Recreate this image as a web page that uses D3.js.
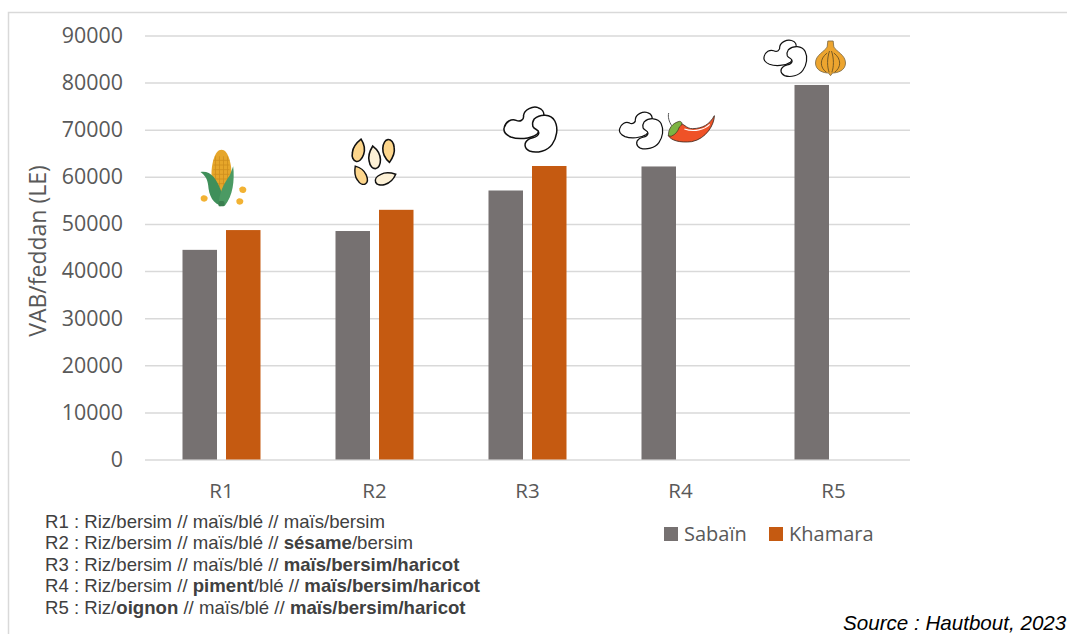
<!DOCTYPE html>
<html lang="fr">
<head>
<meta charset="utf-8">
<title>VAB/feddan par rotation</title>
<script src="https://cdn.jsdelivr.net/npm/d3@7/dist/d3.min.js"></script>
<style>
  html, body { margin: 0; padding: 0; background: #fff; overflow: hidden; }
  svg { display: block; }
  .tick-label { font-family: "Open Sans", sans-serif; fill: #595959; }
  .note { font-family: "Liberation Sans", Arial, sans-serif; font-size: 18.6px; fill: #404040; }
</style>
</head>
<body>
<svg id="chart" width="1067" height="634"></svg>
<script>
// Values per rotation, in LE per feddan
const categories = ["R1", "R2", "R3", "R4", "R5"];
const sabain = [44500, 48500, 57100, 62200, 79500];
const khamara = [48700, 53000, 62300, null, null];
const yTicks = [0, 10000, 20000, 30000, 40000, 50000, 60000, 70000, 80000, 90000];
const seriesNames = ["Sabaïn", "Khamara"];
const seriesColors = ["#767171", "#c55a11"];
const yTitle = "VAB/feddan (LE)";
const sourceText = "Source : Hautbout, 2023";

// Rotation notes: each line is a list of [text, isBold] runs
const noteLines = [
  [["R1 : Riz/bersim // maïs/blé // maïs/bersim", false]],
  [["R2 : Riz/bersim // maïs/blé // ", false], ["sésame", true], ["/bersim", false]],
  [["R3 : Riz/bersim // maïs/blé // ", false], ["maïs/bersim/haricot", true]],
  [["R4 : Riz/bersim // ", false], ["piment", true], ["/blé // ", false], ["maïs/bersim/haricot", true]],
  [["R5 : Riz/", false], ["oignon", true], [" // maïs/blé // ", false], ["maïs/bersim/haricot", true]]
];

const svg = d3.select("#chart");

const plot = { left: 145, right: 910, top: 35.5, bottom: 459.5 };
const x = d3.scaleBand().domain(categories).range([plot.left, plot.right]);
const y = d3.scaleLinear().domain([0, 90000]).range([plot.bottom, plot.top]);
const barWidth = 34.5, barGap = 9;

// Outer frame, open on the bottom edge
svg.append("path")
  .attr("d", "M8.5,634V12.5H1067")
  .attr("fill", "none").attr("stroke", "#d9d9d9").attr("stroke-width", 1.5);

// Value axis with full-width gridlines
const yAxis = svg.append("g")
  .attr("transform", `translate(${plot.left},0)`)
  .call(d3.axisLeft(y).tickValues(yTicks).tickFormat(d3.format("d"))
    .tickSize(-(plot.right - plot.left)).tickPadding(22));
yAxis.select(".domain").remove();
yAxis.selectAll("line").attr("stroke", "#d9d9d9").attr("stroke-width", 1.5);
yAxis.selectAll("text").attr("class", "tick-label").style("font-size", "21.4px");

// Category axis
const xAxis = svg.append("g")
  .attr("transform", `translate(0,${plot.bottom})`)
  .call(d3.axisBottom(x).tickSize(0).tickPadding(24));
xAxis.select(".domain").remove();
xAxis.selectAll("text").attr("class", "tick-label").style("font-size", "20.5px");

svg.append("text")
  .attr("class", "tick-label")
  .attr("transform", `translate(46,${(plot.top + plot.bottom) / 2 + 3.5}) rotate(-90)`)
  .attr("text-anchor", "middle")
  .style("font-size", "23px")
  .text(yTitle);

// Paired bars; a missing value leaves its slot empty
[sabain, khamara].forEach((values, s) => {
  svg.append("g").selectAll("rect")
    .data(categories.map((c, i) => ({ c, v: values[i] })).filter(d => d.v !== null))
    .join("rect")
    .attr("x", d => x(d.c) + x.bandwidth() / 2 + (s === 0 ? -barGap / 2 - barWidth : barGap / 2))
    .attr("y", d => y(d.v))
    .attr("width", barWidth)
    .attr("height", d => y(0) - y(d.v))
    .attr("fill", seriesColors[s]);
});

// Legend
const legendX = [664, 769];
seriesNames.forEach((name, i) => {
  svg.append("rect").attr("x", legendX[i]).attr("y", 527).attr("width", 14).attr("height", 14)
    .attr("fill", seriesColors[i]);
  svg.append("text").attr("class", "tick-label").attr("x", legendX[i] + 20).attr("y", 541)
    .style("font-size", "20px").text(name);
});

// Rotation notes under the axis
const notes = svg.append("g").attr("class", "note");
noteLines.forEach((runs, i) => {
  const line = notes.append("text").attr("x", 45).attr("y", 527.5 + i * 21.5);
  runs.forEach(([t, bold]) => {
    line.append("tspan").attr("font-weight", bold ? "700" : "400").text(t);
  });
});

svg.append("text")
  .attr("x", 843).attr("y", 629.5)
  .attr("font-family", '"Liberation Sans", Arial, sans-serif')
  .attr("font-style", "italic").attr("font-size", "20.6px").attr("fill", "#000")
  .text(sourceText);

// Crop pictograms, authored at 3x and scaled down when placed
function placeIcon(cx, py, size) {
  return svg.append("g").attr("transform", `translate(${cx},${py}) scale(${size / 3})`);
}

function bean(g) {
  const line = { fill: "#fff", stroke: "#111", "stroke-width": 4.5, "stroke-linejoin": "round" };
  const apply = s => { Object.entries(line).forEach(([k, v]) => s.attr(k, v)); return s; };
  apply(g.append("path").attr("d",
    "M2,62 C6,44 24,34 38,40 C50,46 62,38 60,26 C62,8 88,-4 104,2 C116,6 124,16 120,30 C118,50 112,70 100,82 C80,96 44,98 22,90 C8,84 -1,74 2,62Z"));
  apply(g.append("path").attr("d",
    "M92,36 C110,20 142,20 154,42 C165,64 160,92 146,112 C132,132 100,140 78,132 C62,124 60,108 74,98 C84,90 104,94 106,78 C106,66 94,70 88,58 C86,50 88,42 92,36Z"));
}

function corn(g) {
  g.append("path").attr("fill", "#e6a62a")
    .attr("d", "M0,-82 C20,-82 30,-40 30,-10 C30,20 15,50 0,55 C-15,50 -30,20 -30,-10 C-30,-40 -20,-82 0,-82Z");
  [-18, -6, 6, 18].forEach(dx => g.append("line")
    .attr("x1", dx).attr("x2", dx).attr("y1", -62).attr("y2", 30)
    .attr("stroke", "#cf8f1e").attr("stroke-width", 2.5));
  [-50, -36, -22, -8, 6, 20].forEach(dy => g.append("line")
    .attr("x1", -24).attr("x2", 24).attr("y1", dy).attr("y2", dy)
    .attr("stroke", "#cf8f1e").attr("stroke-width", 2.5));
  g.append("path").attr("fill", "#3f8f5a")
    .attr("d", "M-63,-15 C-35,-20 -15,0 2,50 L6,88 C-26,84 -38,54 -40,25 C-42,5 -50,-5 -63,-15Z");
  g.append("path").attr("fill", "#4b9a63")
    .attr("d", "M35,-32 C40,10 34,58 10,86 L-8,88 C-10,50 10,15 25,-5Z");
  g.append("rect").attr("x", -9).attr("y", 72).attr("width", 18).attr("height", 16).attr("rx", 5).attr("fill", "#3a7f50");
  const kernel = "M-10,-4 C-6,-11 6,-11 10,-3 C12,5 6,10 0,10 C-8,10 -12,4 -10,-4Z";
  [[-52, 64], [64, 38], [55, 73]].forEach(([cx, cy]) => g.append("path")
    .attr("d", kernel).attr("transform", `translate(${cx},${cy})`).attr("fill", "#f2b233"));
}

function seeds(g) {
  const seedShape = "M0,-36 C12,-24 20,-8 18,10 C16,26 8,36 0,36 C-10,36 -18,26 -18,10 C-20,-8 -10,-24 0,-36Z";
  [[21, 33, 12, "#fdd68c", 0.95], [68, 54, -8, "#fdf1d6", 0.95], [111, 35, 176, "#fdd68c", 0.95],
   [26, 107, -30, "#fdd68c", 0.85], [102, 117, 68, "#fdf1d6", 0.9]].forEach(([tx, ty, rot, fill, k]) => {
    g.append("path").attr("d", seedShape)
      .attr("transform", `translate(${tx},${ty}) rotate(${rot}) scale(${k})`)
      .attr("fill", fill).attr("stroke", "#111").attr("stroke-width", 5);
  });
}

function chili(g) {
  g.append("path").attr("d", "M3,0 C0,12 4,26 12,38").attr("fill", "none").attr("stroke", "#555").attr("stroke-width", 3);
  g.append("path").attr("fill", "#ef5227").attr("stroke", "#3b2a22").attr("stroke-width", 2.5)
    .attr("d", "M30,30 C48,28 55,48 75,47 C105,46 125,35 140,8 C140,35 115,78 72,86 C35,90 10,82 2,68Z");
  g.append("path").attr("fill", "#7cb342").attr("stroke", "#3b2a22").attr("stroke-width", 2)
    .attr("d", "M2,68 C2,45 15,30 35,25 C46,26 44,36 35,42 C30,56 24,64 10,70Z");
  g.append("path").attr("fill", "none").attr("stroke", "#fff").attr("stroke-width", 3.5)
    .attr("d", "M50,48 C80,58 110,50 126,34");
}

function onion(g) {
  g.append("path").attr("fill", "#eda52f").attr("stroke", "#7d6a45").attr("stroke-width", 2.5)
    .attr("d", "M-8,0 L8,0 L10,18 C18,32 45,42 45,66 C45,88 22,96 6,96 L0,104 L-6,96 C-22,96 -45,88 -45,66 C-45,42 -18,32 -10,18Z");
  ["M-10,36 C-34,54 -32,80 -12,94", "M-3,30 C-11,54 -10,78 -4,94", "M3,30 C11,54 10,78 4,94", "M10,36 C34,54 32,80 12,94"]
    .forEach(d => g.append("path").attr("d", d).attr("fill", "none").attr("stroke", "#5f4a22").attr("stroke-width", 2.5));
}

// Icons sit above the bars, offset from each rotation's centre
const mid = c => x(c) + x.bandwidth() / 2;
corn(placeIcon(mid("R1"), 177, 1));
seeds(placeIcon(mid("R2") - 22.8, 139.3, 1));
bean(placeIcon(mid("R3") - 24, 107, 1));
bean(placeIcon(mid("R4") - 61.5, 112, 0.82));
chili(placeIcon(mid("R4") - 12.8, 113, 1));
bean(placeIcon(mid("R5") - 70, 40, 0.81));
onion(placeIcon(mid("R5") - 3, 41, 1));
</script>
</body>
</html>
